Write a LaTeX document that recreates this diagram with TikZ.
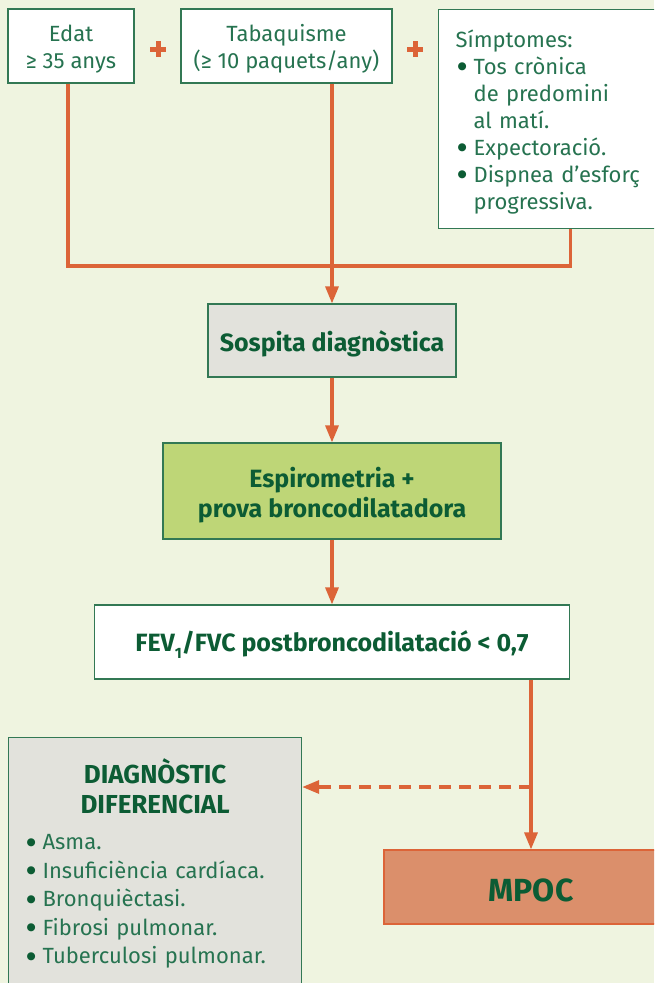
\documentclass[tikz,border=0pt]{standalone}
\usepackage{fontspec}
\IfFontExistsTF{FiraSans-Light.otf}{%
  \setmainfont{FiraSans}[Extension=.otf, UprightFont=*-Light, BoldFont=*-Bold]}{%
  \setmainfont{Fira Sans}}
\newfontfamily\dotfont{DejaVu Sans}
\usetikzlibrary{arrows.meta}

\definecolor{bgcol}{RGB}{239,244,224}
\definecolor{boxline}{RGB}{50,120,84}
\definecolor{txtcol}{RGB}{38,115,80}
\definecolor{boldcol}{RGB}{12,92,52}
\definecolor{conncol}{RGB}{220,100,56}
\definecolor{graycol}{RGB}{226,226,220}
\definecolor{greencol}{RGB}{190,214,119}
\definecolor{mpoccol}{RGB}{219,143,107}

% list helpers: a round bullet and the hanging indent that follows it
\newcommand\bigdot{\textcolor{boldcol}{\raisebox{4.5pt}{\dotfont\fontsize{10.5}{10}\selectfont ●}}}
\newcommand\symdot{\makebox[18pt][l]{\hspace{2pt}\bigdot}}
\newcommand\symgap{\hspace*{18pt}}
\newcommand\diadot{\makebox[16pt][l]{\hspace{0pt}\bigdot}}

\begin{document}
\begin{tikzpicture}[x=1pt,y=-1pt,
  conn/.style={draw=conncol, line width=3.2pt},
  arr/.style={conn, -{Triangle[width=13pt,length=17pt]}},
  box/.style={draw=boxline, line width=1.2pt, text=txtcol,
    font=\fontsize{22}{27}\selectfont, inner sep=0pt, align=center},
  stepbox/.style={box, text=boldcol, font=\fontsize{25}{30}\selectfont\bfseries},
]
\fill[bgcol] (0,0) rectangle (654,983);
\useasboundingbox (0,0) rectangle (654,983);
\clip (0,0) rectangle (654,983);

% risk factors
\node[box, fill=white, minimum width=126pt, minimum height=74pt] (edat) at (71,46)
  {\rule{0pt}{23pt}Edat\\≥ 35 anys};
\node[box, fill=white, minimum width=211pt, minimum height=74pt] (tabaq) at (286.5,46)
  {\rule{0pt}{23pt}Tabaquisme\\(≥ 10 paquets/any)};
\node[box, fill=white, anchor=north west, minimum height=219pt, text width=230pt,
      inner xsep=17pt, align=left] (symp) at (438,9)
  {\rule{0pt}{23pt}Símptomes:\\
   \symdot Tos crònica\\
   \symgap de predomini\\
   \symgap al matí.\\
   \symdot Expectoració.\\
   \symdot Dispnea d’esforç\\
   \symgap progressiva.};

% plus signs between the factors
\draw[conncol, line width=5pt] (150,49) -- (166,49) (158,41) -- (158,57);
\draw[conncol, line width=5pt] (407,49) -- (423,49) (415,41) -- (415,57);

% main flow
\node[stepbox, fill=graycol, minimum width=248pt, minimum height=73pt] (sosp) at (332,340.5)
  {\rule{0pt}{27pt}Sospita diagnòstica};
\node[stepbox, fill=greencol, minimum width=338pt, minimum height=96pt] (espiro) at (332,491)
  {\rule{0pt}{29pt}Espirometria +\\prova broncodilatadora};
\node[stepbox, fill=white, minimum width=475pt, minimum height=74pt] (fev) at (332,642)
  {\rule{0pt}{26pt}FEV\raisebox{-7pt}{\fontsize{15}{15}\selectfont 1}/FVC postbroncodilatació < 0,7};
\node[stepbox, fill=mpoccol, draw=conncol, font=\fontsize{32}{36}\selectfont\bfseries,
      minimum width=294pt, minimum height=74pt] (mpoc) at (531,887) {\rule{0pt}{30pt}MPOC};
\node[box, fill=graycol, anchor=north west, text width=257pt, inner xsep=18pt,
      inner ysep=21pt, align=left] (diag) at (8,737)
  {{\centering\color{boldcol}\fontsize{26}{30}\selectfont\bfseries DIAGNÒSTIC\\DIFERENCIAL\par}%
   \fontsize{22}{28.5}\selectfont\vspace{8pt}%
   \diadot Asma.\\
   \diadot Insuficiència cardíaca.\\
   \diadot Bronquièctasi.\\
   \diadot Fibrosi pulmonar.\\
   \diadot Tuberculosi pulmonar.\\[12pt]};

% connectors
\coordinate (merge) at (332,266);
\coordinate (branch) at (531,787);
\draw[conn] ([xshift=-3pt]edat.south) |- (merge) -| (symp.south);
\draw[arr] (tabaq.south -| merge) -- (sosp.north);
\draw[arr] (sosp.south) -- (espiro.north);
\draw[arr] (espiro.south) -- (fev.north);
\draw[arr] (fev.south -| mpoc.north) -- (mpoc.north);
\draw[arr, dash pattern=on 12pt off 8pt] (branch) -- (branch -| diag.east);
\end{tikzpicture}
\end{document}
